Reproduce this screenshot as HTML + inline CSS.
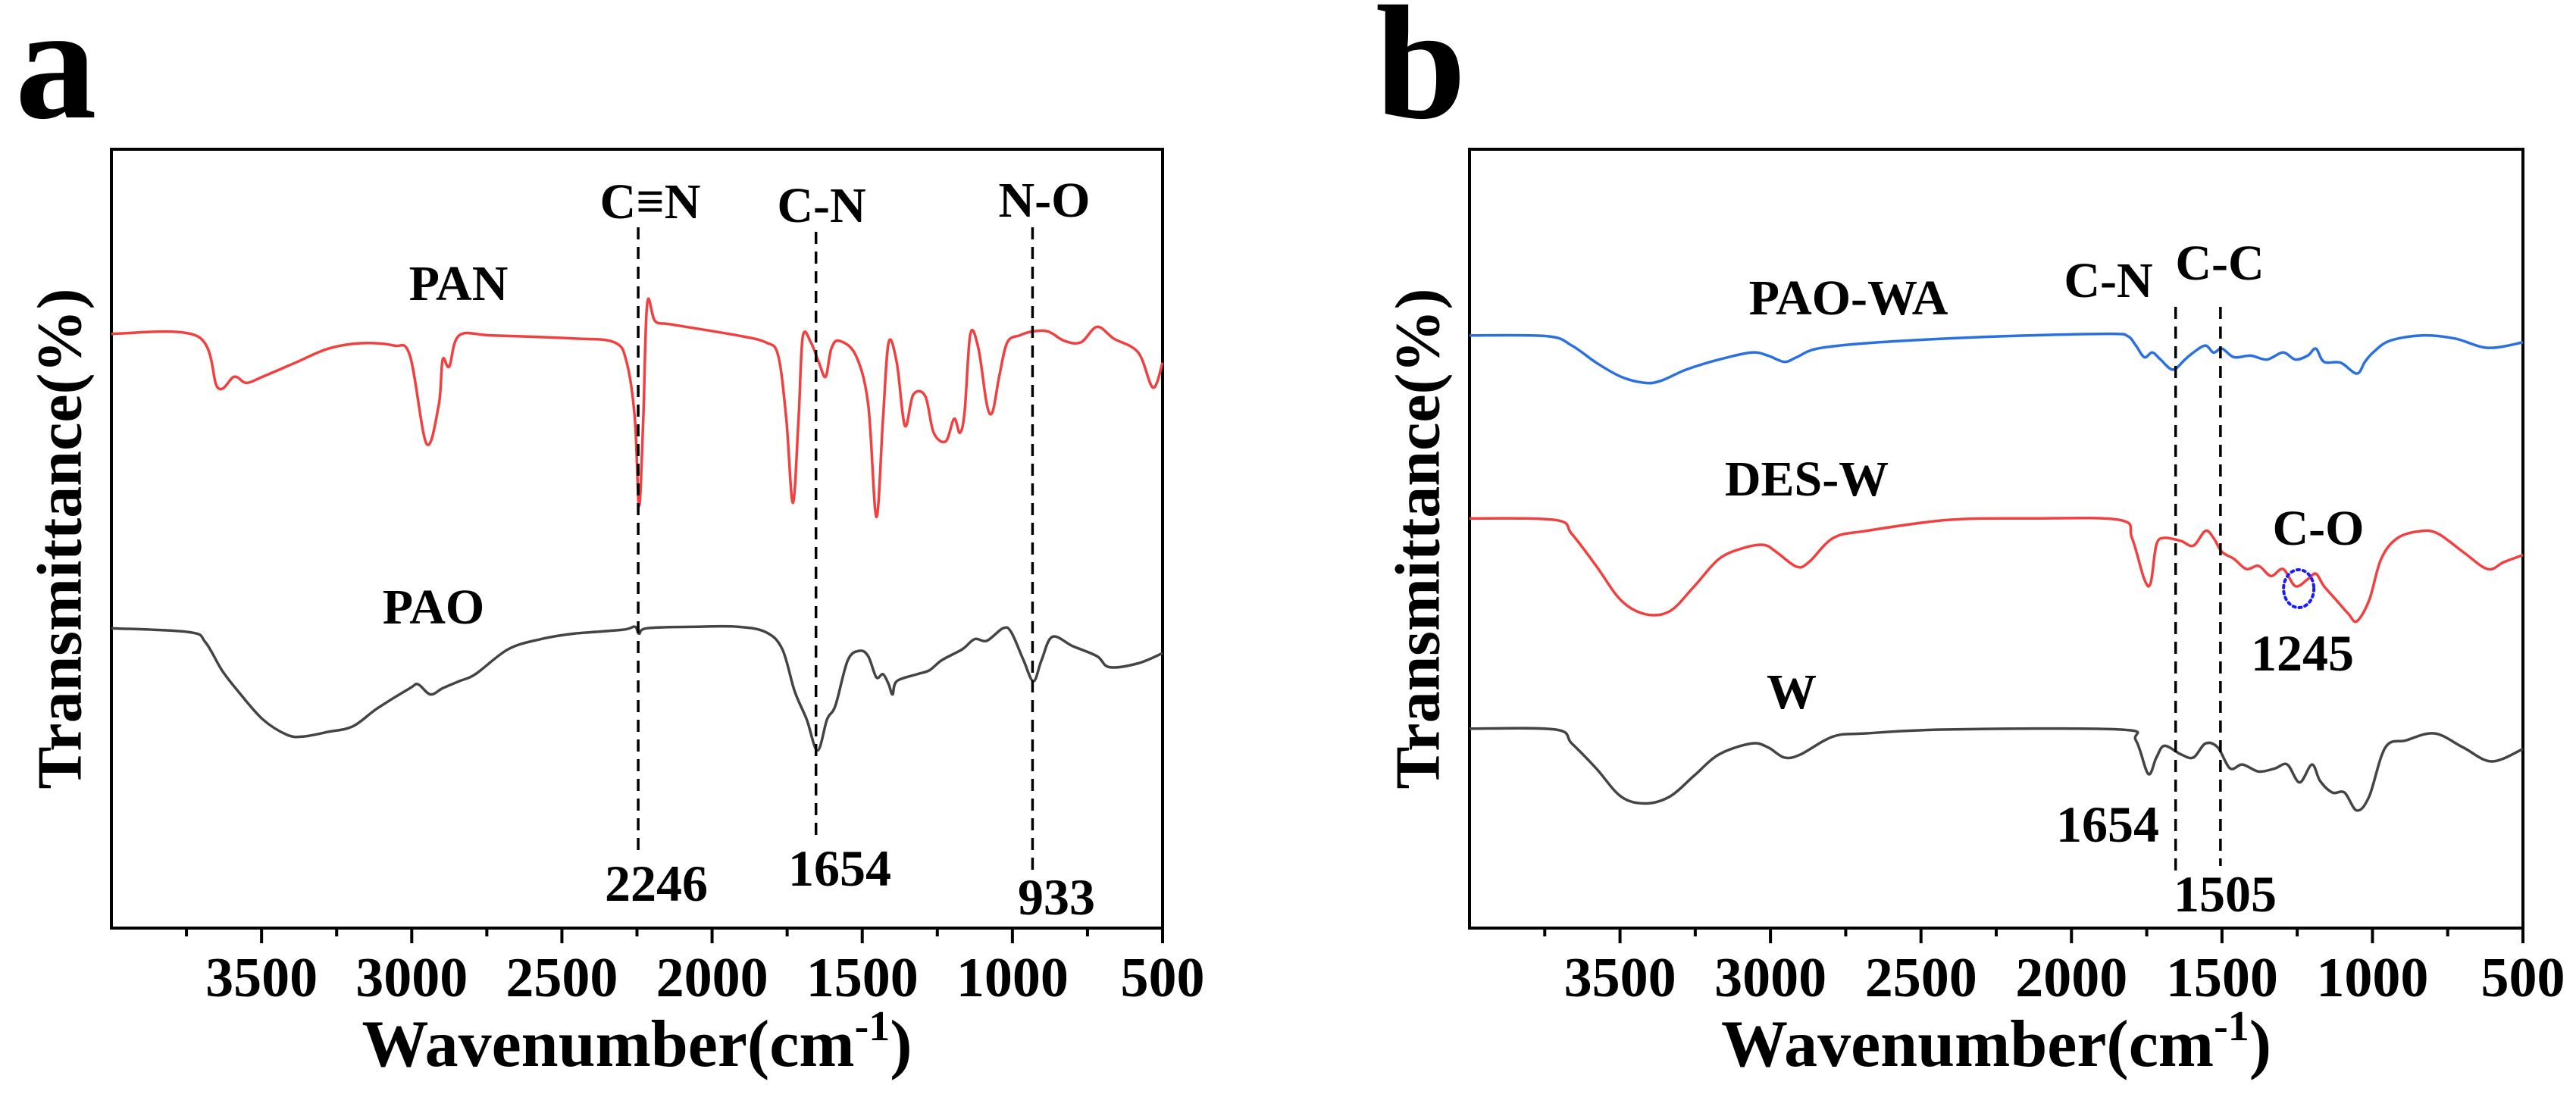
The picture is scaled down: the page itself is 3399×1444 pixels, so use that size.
<!DOCTYPE html>
<html><head><meta charset="utf-8"><style>
html,body{margin:0;padding:0;background:#fff;}
svg{display:block;}
svg text{font-family:"Liberation Serif","DejaVu Serif",serif;font-weight:bold;}
</style></head><body>
<svg id="fig" width="3399" height="1444" viewBox="0 0 3399 1444" xmlns="http://www.w3.org/2000/svg">
<rect width="3399" height="1444" fill="#fff"/>
<text x="20" y="155" font-size="215">a</text>
<text x="1815" y="155" font-size="215">b</text>
</svg>
<script>
// Panel a data (wavenumber cm-1, relative transmittance)
const panWn = [4000,3714,3646,3591,3551,3496,3387,3278,3169,3060,3006,2951,2910,2897,2875,2842,2733,2461,2325,2284,2257,2243,2229,2216,2189,2134,1916,1821,1780,1753,1731,1712,1698,1671,1644,1622,1603,1576,1521,1480,1453,1431,1412,1385,1358,1330,1290,1262,1222,1194,1175,1159,1140,1113,1085,1066,1044,1017,976,935,881,827,772,718,663,581,532,500];
const panT = [76.3,76.0,69.4,70.8,70.0,70.8,72.6,74.4,75.1,74.8,73.5,62.2,67.2,73.0,72.1,76.1,76.1,75.7,75.2,72.6,65.4,54.2,65.4,80.2,77.9,77.5,76.1,75.2,73.5,65.4,54.6,65.4,75.9,75.2,72.6,70.8,74.4,75.4,73.5,67.2,52.8,65.4,75.2,72.6,64.5,68.5,68.3,63.6,62.5,65.4,63.6,66.3,76.3,74.4,67.2,66.3,70.8,75.2,76.1,76.6,76.6,75.4,75.2,77.2,75.7,73.9,69.4,72.6];
const paoWn = [4000,3741,3687,3632,3578,3496,3414,3360,3278,3196,3115,3006,2979,2938,2897,2842,2788,2679,2570,2461,2298,2257,2243,2216,2052,1916,1821,1766,1725,1685,1649,1617,1589,1548,1508,1480,1453,1431,1412,1399,1385,1317,1276,1235,1167,1126,1085,1031,1004,963,930,903,867,799,718,677,581,500];
const paoT = [38.5,38.0,36.7,33.1,30.4,26.8,24.8,24.6,25.2,25.9,28.2,30.8,31.3,30.0,30.8,31.7,32.6,35.8,37.1,37.8,38.3,38.7,37.8,38.5,38.7,38.7,38.0,35.8,30.4,26.8,22.8,26.8,28.6,34.4,35.6,34.9,32.2,32.6,31.3,30.0,31.7,32.6,33.1,34.4,35.8,37.1,36.9,38.5,38.0,34.4,31.7,34.4,37.4,36.2,34.9,33.5,34.0,35.3];
// Panel b data
const waWn = [4000,3742,3660,3579,3497,3416,3362,3280,3171,3063,3008,2954,2913,2845,2682,2411,2139,1867,1813,1786,1758,1731,1704,1663,1623,1595,1555,1528,1500,1460,1405,1351,1297,1256,1215,1188,1161,1106,1052,1025,998,943,835,726,617,500];
const waT = [76.1,76.0,74.8,72.6,70.8,70.0,70.3,71.7,73.0,73.9,73.5,72.7,73.3,74.4,75.1,75.7,76.1,76.3,76.0,74.8,73.3,73.9,73.0,71.7,73.0,73.9,74.8,73.9,74.4,73.3,73.5,73.0,73.9,73.0,73.5,74.4,72.7,72.6,71.2,72.7,73.9,75.4,76.1,75.7,74.5,75.2];
const desWn = [4000,3715,3660,3579,3497,3416,3334,3253,3171,3090,3022,2981,2913,2872,2791,2682,2411,2139,1840,1799,1758,1737,1718,1691,1636,1595,1555,1528,1500,1460,1419,1378,1337,1297,1256,1215,1188,1161,1120,1079,1052,1011,971,916,835,780,699,617,563,500];
const desT = [52.6,52.4,50.6,46.5,42.1,40.3,40.7,43.9,47.4,48.8,49.2,48.3,46.4,47.0,50.1,51.0,52.4,52.6,52.4,50.1,44.8,44.3,49.2,50.1,49.7,49.1,51.0,50.1,48.3,47.4,46.1,46.5,45.2,46.1,43.9,44.8,45.5,43.9,42.1,40.3,39.4,42.1,47.4,50.1,51.0,50.6,48.3,46.1,47.0,47.9];
const wWn = [4000,3715,3660,3579,3497,3416,3334,3253,3171,3063,3008,2954,2900,2791,2682,2411,1840,1786,1745,1718,1691,1636,1595,1555,1514,1473,1432,1378,1324,1283,1242,1201,1174,1133,1093,1052,1011,957,889,794,699,604,500];
const wT = [25.6,25.5,23.7,20.5,16.9,16.0,16.9,19.6,22.3,23.7,23.2,21.9,22.3,24.6,25.0,25.5,25.5,24.1,19.8,21.9,23.4,22.3,21.9,23.7,23.2,20.5,21.0,20.1,20.5,21.0,18.7,21.0,18.9,17.4,17.4,15.1,16.9,23.2,24.1,25.0,23.2,21.4,23.0];
const majorTicks = [3500,3000,2500,2000,1500,1000,500];
const minorTicks = [3750,3250,2750,2250,1750,1250,750];
const tickLabels = ["3500","3000","2500","2000","1500","1000","500"];
const markA = [2246,1654,933];
const markB = [1654,1505];

const NS = "http://www.w3.org/2000/svg";
const svg = document.getElementById('fig');
function mk(tag, attrs, parent){ const e=document.createElementNS(NS,tag); for(const k in attrs) e.setAttribute(k,attrs[k]); (parent||svg).appendChild(e); return e; }
function txt(s, x, y, size, parent, anchor){ const t=mk('text',{x:x,y:y,'font-size':size,'text-anchor':anchor||'middle'},parent); t.textContent=s; return t; }

function panel(id, L, R, T, B){
  const g = mk('g',{});
  
  
  const sx = w => L + (4000 - w) / 3500 * (R - L);
  const sy = t => B - t / 100 * (B - T);
  const ax = mk('rect',{x:L,y:T,width:R-L,height:B-T,fill:'none',stroke:'#000','stroke-width':4},g);
  
  
  majorTicks.forEach((v,i)=>{
    const tk = mk('line',{x1:sx(v),x2:sx(v),y1:B,y2:B+20,stroke:'#000','stroke-width':4},g);
    
    
    const lb = txt(tickLabels[i], sx(v), 1315, 74, g);
    
    
  });
  minorTicks.forEach(v=>{
    const tk = mk('line',{x1:sx(v),x2:sx(v),y1:B,y2:B+11,stroke:'#000','stroke-width':4},g);
    
    
  });
  const xt = mk('text',{x:(L+R)/2,y:1407,'font-size':88,'text-anchor':'middle'},g);
  xt.innerHTML = 'Wavenumber(cm<tspan font-size="56" dy="-34">-1</tspan><tspan dy="34">)</tspan>';
  
  
  const yx = L - 68;
  const yt = mk('text',{x:yx,y:(T+B)/2,'font-size':84,'text-anchor':'middle',transform:`rotate(-90 ${yx} ${(T+B)/2})`,'dominant-baseline':'central'},g);
  yt.textContent = 'Transmittance(%)';
  
  
  return {g, sx, sy};
}
function series(p, wn, t, color, name){
  const pts = wn.map((w,i)=>[p.sx(w), p.sy(t[i])]);
  let d = 'M'+pts[0][0].toFixed(1)+' '+pts[0][1].toFixed(1);
  for(let i=0;i<pts.length-1;i++){
    const p0=pts[Math.max(0,i-1)], p1=pts[i], p2=pts[i+1], p3=pts[Math.min(pts.length-1,i+2)];
    const k=1/6;
    const c1=[p1[0]+(p2[0]-p0[0])*k, p1[1]+(p2[1]-p0[1])*k];
    const c2=[p2[0]-(p3[0]-p1[0])*k, p2[1]-(p3[1]-p1[1])*k];
    d += ' C'+c1[0].toFixed(1)+' '+c1[1].toFixed(1)+' '+c2[0].toFixed(1)+' '+c2[1].toFixed(1)+' '+p2[0].toFixed(1)+' '+p2[1].toFixed(1);
  }
  const path = mk('path',{d:d,fill:'none',stroke:color,'stroke-width':3.5,'stroke-linejoin':'round'},p.g);
  
  
}
function vline(p, w, y1, y2){
  const l = mk('line',{x1:p.sx(w),x2:p.sx(w),y1:y1,y2:y2,stroke:'#000','stroke-width':3.5,'stroke-dasharray':'16 10'},p.g);
  
  
}
function label(p, s, x, y, size, name){
  const t = txt(s, x, y, size||66, p.g);
  
  
}

// Panel a
const pa = panel('panel-a', 147, 1534, 197, 1225);
series(pa, panWn, panT, '#f04040', 'pan-spectrum');
series(pa, paoWn, paoT, '#444444', 'pao-spectrum');
vline(pa, markA[0], 300, 1122);
vline(pa, markA[1], 306, 1103);
vline(pa, markA[2], 300, 1158);
label(pa, 'C≡N', 858, 288, 66, 'cn-triple-label');
label(pa, 'C-N', 1084, 293, 66, 'cn-label');
label(pa, 'N-O', 1378, 286, 66, 'no-label');
label(pa, 'PAN', 605, 396, 66, 'pan-label');
label(pa, 'PAO', 572, 823, 66, 'pao-label');
label(pa, String(markA[0]), 866, 1189, 68, 'peak-2246-label');
label(pa, String(markA[1]), 1108, 1169, 68, 'peak-1654-label');
label(pa, String(markA[2]), 1394, 1207, 68, 'peak-933-label');

// Panel b
const pb = panel('panel-b', 1939, 3329, 197, 1225);
series(pb, waWn, waT, '#2a70e0', 'pao-wa-spectrum');
series(pb, desWn, desT, '#f04040', 'des-w-spectrum');
series(pb, wWn, wT, '#444444', 'w-spectrum');
vline(pb, markB[0], 405, 1152);
vline(pb, markB[1], 405, 1143);
label(pb, 'C-N', 2782, 392, 66, 'cn-label-b');
label(pb, 'C-C', 2929, 369, 66, 'cc-label');
label(pb, 'PAO-WA', 2439, 415, 66, 'pao-wa-label');
label(pb, 'DES-W', 2384, 654, 66, 'des-w-label');
label(pb, 'W', 2364, 935, 66, 'w-label');
label(pb, 'C-O', 3059, 719, 66, 'co-label');
label(pb, '1245', 3038, 885, 68, 'peak-1245-label');
label(pb, String(markB[0]), 2781, 1111, 68, 'peak-1654-label-b');
label(pb, String(markB[1]), 2936, 1203, 68, 'peak-1505-label');
const el = mk('ellipse',{cx:pb.sx(1245),cy:777,rx:20,ry:25,fill:'none',stroke:'#1a1aff','stroke-width':4,'stroke-dasharray':'3 5','stroke-linecap':'round'},pb.g);


</script>
</body></html>
